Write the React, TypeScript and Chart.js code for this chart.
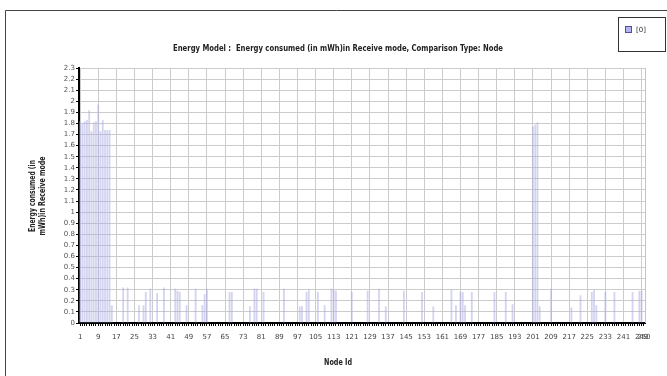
import React, { useEffect, useRef } from 'react';
import { Chart, registerables } from 'chart.js';

Chart.register(...registerables);

const TITLE = 'Energy Model :  Energy consumed (in mWh)in Receive mode, Comparison Type: Node';
const Y_TITLE = ['Energy consumed (in', 'mWh)in Receive mode'];
const X_TITLE = 'Node Id';
const SERIES_NAME = '[0]';
const NODE_COUNT = 250;
const Y_MAX = 2.3;
const Y_STEP = 0.1;

// Node ids that consumed energy, and their values (mWh)
const activeNodes = [
  1, 2, 3, 4, 5, 6, 7, 8, 9, 10, 11, 12, 13, 14,
  15, 20, 22, 27, 29, 30, 32, 35, 38, 43, 44, 45, 48, 52, 55, 56, 57,
  67, 68, 76, 78, 79, 82, 91, 98, 99, 101, 102, 106, 109, 112, 113, 114,
  121, 128, 133, 136, 144, 152, 157, 165, 167, 169, 170, 171, 174, 184, 189, 192,
  201, 202, 203, 204, 209, 218, 222, 227, 228, 229, 233, 237, 245, 248, 249,
];
const activeValues = [
  1.82, 1.8, 1.82, 1.83, 1.92, 1.73, 1.81, 1.82, 1.97, 1.73, 1.83, 1.74, 1.74, 1.74,
  0.16, 0.32, 0.32, 0.16, 0.16, 0.28, 0.31, 0.27, 0.32, 0.31, 0.29, 0.28, 0.16, 0.31, 0.16, 0.26, 0.31,
  0.28, 0.28, 0.15, 0.31, 0.31, 0.28, 0.31, 0.15, 0.15, 0.28, 0.3, 0.28, 0.16, 0.31, 0.3, 0.29,
  0.28, 0.29, 0.31, 0.15, 0.29, 0.28, 0.15, 0.3, 0.16, 0.28, 0.28, 0.16, 0.28, 0.28, 0.28, 0.17,
  1.77, 1.79, 1.81, 0.15, 0.31, 0.14, 0.25, 0.28, 0.3, 0.16, 0.28, 0.28, 0.28, 0.29, 0.29,
];

const nodeLabels: string[] = [];
for (let i = 1; i <= NODE_COUNT; i++) nodeLabels.push(String(i));

const seriesValues: number[] = nodeLabels.map((lab) => {
  const k = activeNodes.indexOf(Number(lab));
  return k >= 0 ? activeValues[k] : 0;
});

const TICK_FONT = { family: '"DejaVu Sans", sans-serif', size: 7 };
const LABEL_FAMILY = '"DejaVu Sans Condensed", "DejaVu Sans", sans-serif';

const decorPlugin = {
  id: 'decor',
  beforeDraw(chart: any) {
    const ctx = chart.ctx;
    ctx.save();
    ctx.fillStyle = '#ffffff';
    ctx.fillRect(0, 0, chart.width, chart.height);
    ctx.restore();
  },
  afterDraw(chart: any) {
    const ctx = chart.ctx;
    const a = chart.chartArea;
    ctx.save();
    // plot right border
    ctx.strokeStyle = '#c4c4c4';
    ctx.lineWidth = 1;
    ctx.beginPath();
    ctx.moveTo(Math.round(a.right) + 0.5, a.top);
    ctx.lineTo(Math.round(a.right) + 0.5, a.bottom);
    ctx.stroke();
    // outer frame
    ctx.strokeStyle = '#444';
    ctx.beginPath();
    ctx.moveTo(5.5, chart.height);
    ctx.lineTo(5.5, 10.5);
    ctx.lineTo(chart.width, 10.5);
    ctx.stroke();
    // title
    ctx.fillStyle = '#222';
    ctx.textAlign = 'center';
    ctx.textBaseline = 'middle';
    ctx.font = 'bold 9px ' + LABEL_FAMILY;
    ctx.fillText(TITLE, 338, 49, 330);
    // x title
    ctx.font = 'bold 8px ' + LABEL_FAMILY;
    ctx.fillText(X_TITLE, 338, 363, 28);
    // y title
    ctx.save();
    ctx.translate(33, 196);
    ctx.rotate(-Math.PI / 2);
    Y_TITLE.forEach((line, i) => ctx.fillText(line, 0, i * 10, i === 0 ? 72 : 79));
    ctx.restore();
    // legend
    ctx.strokeStyle = '#333';
    ctx.strokeRect(618.5, 17.5, 47, 34);
    ctx.fillStyle = '#b4b4ee';
    ctx.fillRect(625, 26, 7, 7);
    ctx.strokeStyle = '#5050a0';
    ctx.strokeRect(625.5, 26.5, 6, 6);
    ctx.fillStyle = '#333';
    ctx.textAlign = 'left';
    ctx.font = '7px "DejaVu Sans", sans-serif';
    ctx.fillText(SERIES_NAME, 636, 30);
    ctx.restore();
  },
};

export default function App() {
  const canvasRef = useRef<HTMLCanvasElement | null>(null);

  useEffect(() => {
    const canvas = canvasRef.current;
    if (!canvas) return;
    const chart = new Chart(canvas, {
      type: 'bar',
      data: {
        labels: nodeLabels,
        datasets: [
          {
            label: SERIES_NAME,
            data: seriesValues,
            backgroundColor: 'rgba(170,170,228,0.5)',
            borderWidth: 0,
            barPercentage: 1,
            categoryPercentage: 0.8,
          },
        ],
      },
      options: {
        responsive: false,
        animation: false,
        devicePixelRatio: 1,
        layout: { padding: { left: 0, top: 68, right: 22, bottom: 0 } },
        plugins: {
          legend: { display: false },
          tooltip: { enabled: false },
          title: { display: false },
        },
        scales: {
          x: {
            type: 'category',
            offset: true,
            afterFit: (s: any) => {
              s.height = 53;
            },
            grid: {
              offset: false,
              color: (c: any) => (c.index % 8 === 0 ? '#cccccc' : 'rgba(0,0,0,0)'),
              tickColor: '#000',
              tickLength: 3,
              drawTicks: true,
            },
            border: { color: '#000', width: 2 },
            ticks: {
              autoSkip: false,
              maxRotation: 0,
              minRotation: 0,
              padding: 7,
              color: '#444',
              font: TICK_FONT,
              callback: (_v: any, index: number) =>
                index % 8 === 0 || index === NODE_COUNT - 1 ? nodeLabels[index] : '',
            },
          },
          y: {
            min: 0,
            max: Y_MAX,
            afterFit: (s: any) => {
              s.width = 79;
            },
            grid: {
              color: '#cccccc',
              tickColor: '#000',
              tickLength: 3,
            },
            border: { color: '#000', width: 2 },
            ticks: {
              stepSize: Y_STEP,
              maxTicksLimit: 40,
              autoSkip: false,
              padding: 1,
              color: '#555',
              font: TICK_FONT,
              callback: (v: any) => String(Math.round(Number(v) * 10) / 10),
            },
          },
        },
      },
      plugins: [decorPlugin],
    });
    return () => chart.destroy();
  }, []);

  return (
    <div style={{ position: 'fixed', left: 0, top: 0, width: 667, height: 376, background: '#fff' }}>
      <canvas ref={canvasRef} width={667} height={376} style={{ width: 667, height: 376, display: 'block' }} />
    </div>
  );
}
